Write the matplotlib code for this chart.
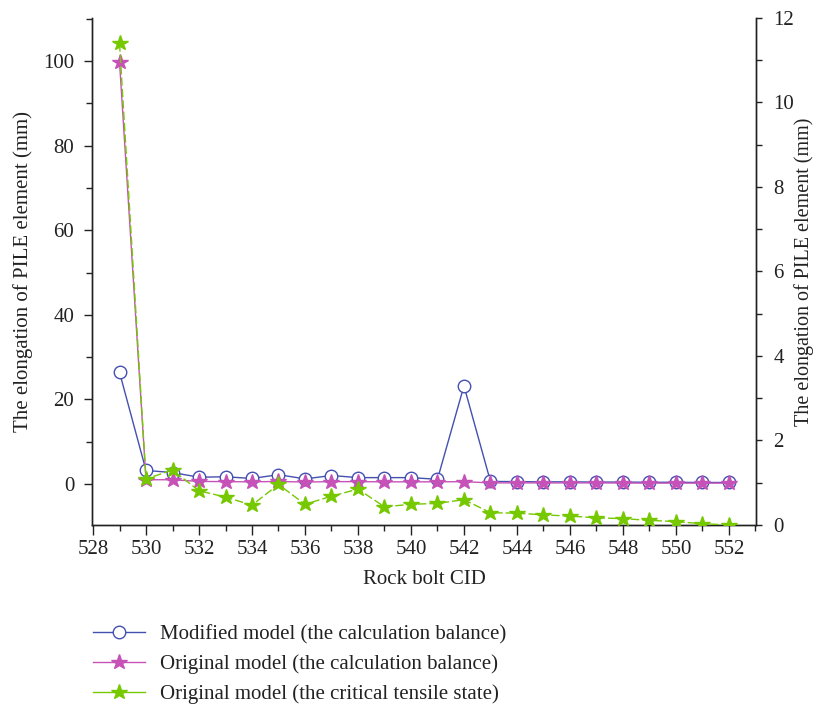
import matplotlib
matplotlib.use("Agg")
import matplotlib.pyplot as plt
from matplotlib.ticker import MultipleLocator
from matplotlib.lines import Line2D

cid = list(range(529, 553))
modified_balance = [26.4, 3.2, 2.7, 1.6, 1.7, 1.3, 2.2, 1.2, 2.0, 1.5, 1.5, 1.5, 1.1, 23.2,
                    0.6, 0.55, 0.5, 0.5, 0.45, 0.45, 0.4, 0.4, 0.35, 0.35]
original_balance = [99.8, 1.0, 1.0, 0.6, 0.55, 0.5, 0.6, 0.45, 0.55, 0.55, 0.5, 0.5, 0.5, 0.55,
                    0.25, 0.25, 0.25, 0.25, 0.25, 0.22, 0.2, 0.2, 0.2, 0.2]
original_critical = [11.4, 1.09, 1.30, 0.81, 0.66, 0.47, 0.96, 0.49, 0.68, 0.85, 0.43, 0.49,
                     0.51, 0.60, 0.29, 0.28, 0.24, 0.21, 0.17, 0.15, 0.11, 0.08, 0.03, 0.0]

labels = ["Modified model (the calculation balance)",
          "Original model (the calculation balance)",
          "Original model (the critical tensile state)"]
ylabel = "The elongation of PILE element (mm)"
xlabel = "Rock bolt CID"

c_blue = "#4450b0"
c_pink = "#c652b8"
c_green = "#76c800"
c_text = "#222222"

plt.rcParams['font.family'] = ['Liberation Serif', 'DejaVu Serif']
fs_tick = 15
fs_label = 15
fs_leg = 15

fig = plt.figure(figsize=(8.16, 7.08), dpi=100)
ax = fig.add_axes([0.1127, 0.2585, 0.8137, 0.7161])
ax2 = ax.twinx()

ax.plot(cid, modified_balance, color=c_blue, lw=1.0, marker='o', ms=9,
        mfc='white', mec=c_blue, mew=1.0, zorder=3)
ax.plot(cid, original_balance, color=c_pink, lw=1.0, marker='*', ms=11.5,
        mfc=c_pink, mec=c_pink, zorder=4)
ax2.plot(cid, original_critical, color=c_green, lw=1.0, marker='*', ms=11.5,
         mfc=c_green, mec=c_green, dashes=(6, 2.2), zorder=4)

ax.set_xlim(527.96, 553.02)
ax.set_ylim(-9.7, 110.2)
ax2.set_ylim(0, 12)

ax.xaxis.set_major_locator(MultipleLocator(2))
ax.xaxis.set_minor_locator(MultipleLocator(1))
ax.yaxis.set_major_locator(MultipleLocator(20))
ax.yaxis.set_minor_locator(MultipleLocator(10))
ax2.yaxis.set_major_locator(MultipleLocator(2))
ax2.yaxis.set_minor_locator(MultipleLocator(1))

for a in (ax, ax2):
    a.spines['top'].set_visible(False)
    for s in a.spines.values():
        s.set_linewidth(1.0)
        s.set_color(c_text)

ax.tick_params(axis='x', which='major', direction='out', length=7, width=1.0, pad=4,
               labelsize=fs_tick, colors=c_text)
ax.tick_params(axis='x', which='minor', direction='out', length=4.5, width=1.0, colors=c_text)
ax.tick_params(axis='y', which='major', direction='out', length=5.8, width=1.0, pad=7,
               labelsize=fs_tick, colors=c_text)
ax.tick_params(axis='y', which='minor', direction='out', length=4, width=1.0, colors=c_text)
ax2.tick_params(axis='y', which='major', direction='out', length=4.5, width=1.0, pad=8,
                labelsize=fs_tick, colors=c_text)
ax2.tick_params(axis='y', which='minor', direction='out', length=4, width=1.0, colors=c_text)

ax.set_ylabel(ylabel, fontsize=fs_label, color=c_text, labelpad=7)
ax2.set_ylabel(ylabel, fontsize=14.5, color=c_text, labelpad=0)
ax.set_xlabel(xlabel, fontsize=fs_label, color=c_text, labelpad=8)

handles = [
    Line2D([], [], color=c_blue, lw=1.0, marker='o', ms=9, mfc='white', mec=c_blue),
    Line2D([], [], color=c_pink, lw=1.0, marker='*', ms=11.5, mfc=c_pink, mec=c_pink),
    Line2D([], [], color=c_green, lw=1.0, marker='*', ms=11.5, mfc=c_green, mec=c_green),
]
leg = fig.legend(handles, labels, loc='upper left', bbox_to_anchor=(0.091, 0.1444),
                 frameon=False, fontsize=fs_leg, handlelength=2.5, handletextpad=0.72,
                 labelspacing=0.5, labelcolor=c_text)

fig.savefig("out.png", dpi=100)
